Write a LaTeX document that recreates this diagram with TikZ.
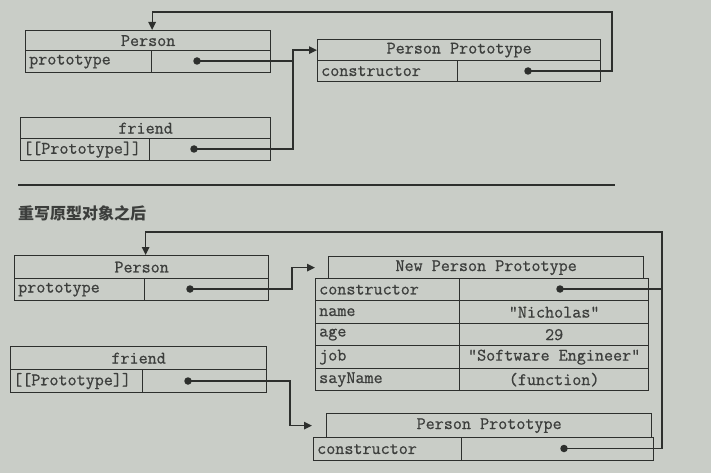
\documentclass[tikz,border=0pt]{standalone}
\usepackage{fontspec}
\newfontfamily\cjk{Noto Sans CJK SC}
\newfontfamily\monof{Latin Modern Mono}[FakeBold=0.7]
\usetikzlibrary{arrows.meta}
\definecolor{bg}{RGB}{201,205,199}
\definecolor{ln}{RGB}{45,47,45}
\definecolor{tx}{RGB}{60,62,60}
\begin{document}
\begin{tikzpicture}[x=1pt,y=-1pt,
  mono/.style={font=\monof\fontsize{17.6}{20}\selectfont},
  cell/.style={draw=ln, line width=1.3pt, anchor=north west, inner sep=0pt, text=tx, mono},
  lbl/.style={anchor=west, inner sep=0pt, text=tx, mono},
  dotn/.style={circle, fill=ln, inner sep=0pt, minimum size=7.5pt},
  link/.style={draw=ln, line width=1.3pt},
  arr/.style={link, -{Triangle[length=8pt,width=7.5pt]}}
]
\fill[bg] (0,0) rectangle (711,473);
\useasboundingbox (0,0) rectangle (711,473);

% ---------- top section ----------
\node[cell, minimum width=245pt, minimum height=20pt] (p1h) at (25,30) {Person};
\node[cell, minimum width=126pt, minimum height=22pt] (p1a) at (25,50) {};
\node[cell, minimum width=119pt, minimum height=22pt] (p1b) at (151,50) {};
\node[lbl] (p1l) at ([xshift=4pt]p1a.west) {prototype};
\node[dotn] (d1) at (197,61) {};

\node[cell, minimum width=250pt, minimum height=21pt] (f1h) at (20,117) {friend};
\node[cell, minimum width=129pt, minimum height=22pt] (f1a) at (20,138) {};
\node[cell, minimum width=121pt, minimum height=22pt] (f1b) at (149,138) {};
\node[lbl] (f1l) at ([xshift=3pt]f1a.west) {[[Prototype]]};
\node[dotn] (d2) at (194,149) {};

\node[cell, minimum width=283pt, minimum height=21pt] (pp1h) at (317,39) {Person Prototype};
\node[cell, minimum width=140pt, minimum height=21pt] (pp1a) at (317,60) {};
\node[cell, minimum width=143pt, minimum height=21pt] (pp1b) at (457,60) {};
\node[lbl] (pp1l) at ([xshift=4pt]pp1a.west) {constructor};
\node[dotn] (d3) at (528,71) {};

\coordinate (j1) at (293,61);
\coordinate (c1) at (612,12);
\draw[arr] (d1.center) -- (j1) |- (pp1h.west);
\draw[link] (d2.center) -| (j1);
\draw[arr] (d3.center) -| (c1) -| ([xshift=4pt]p1h.north);

% ---------- separator ----------
\coordinate (s1) at (18,185);
\coordinate (s2) at (615,185);
\draw[ln, line width=1.8pt] (s1) -- (s2);
\node[anchor=west, inner sep=0pt, text=tx, font=\cjk\bfseries\fontsize{16}{18}\selectfont] (title) at (18,213) {重写原型对象之后};

% ---------- bottom section ----------
\node[cell, minimum width=254pt, minimum height=23pt] (p2h) at (14,255) {Person};
\node[cell, minimum width=130pt, minimum height=22pt] (p2a) at (14,278) {};
\node[cell, minimum width=124pt, minimum height=22pt] (p2b) at (144,278) {};
\node[lbl] (p2l) at ([xshift=4pt]p2a.west) {prototype};
\node[dotn] (d4) at (190,289) {};

\node[cell, minimum width=256pt, minimum height=23pt] (f2h) at (10,346) {friend};
\node[cell, minimum width=132pt, minimum height=23pt] (f2a) at (10,369) {};
\node[cell, minimum width=124pt, minimum height=23pt] (f2b) at (142,369) {};
\node[lbl] (f2l) at ([xshift=3pt]f2a.west) {[[Prototype]]};
\node[dotn] (d5) at (188,381) {};

\node[cell, minimum width=315pt, minimum height=22pt] (nh) at (328,256) {New Person Prototype};
\node[cell, minimum width=144pt, minimum height=22pt] (n1a) at (315,278) {};
\node[cell, minimum width=189pt, minimum height=22pt] (n1b) at (459,278) {};
\node[cell, minimum width=144pt, minimum height=23pt] (n2a) at (315,300) {};
\node[cell, minimum width=189pt, minimum height=23pt] (n2b) at (459,300) {"Nicholas"};
\node[cell, minimum width=144pt, minimum height=22pt] (n3a) at (315,323) {};
\node[cell, minimum width=189pt, minimum height=22pt] (n3b) at (459,323) {29};
\node[cell, minimum width=144pt, minimum height=23pt] (n4a) at (315,345) {};
\node[cell, minimum width=189pt, minimum height=23pt] (n4b) at (459,345) {"Software Engineer"};
\node[cell, minimum width=144pt, minimum height=22pt] (n5a) at (315,368) {};
\node[cell, minimum width=189pt, minimum height=22pt] (n5b) at (459,368) {(function)};
\node[lbl] (n1l) at ([xshift=4pt]n1a.west) {constructor};
\node[lbl] (n2l) at ([xshift=4pt]n2a.west) {name};
\node[lbl] (n3l) at ([xshift=4pt]n3a.west) {age};
\node[lbl] (n4l) at ([xshift=4pt]n4a.west) {job};
\node[lbl] (n5l) at ([xshift=4pt]n5a.west) {sayName};
\node[dotn] (d6) at (560,289) {};

\node[cell, minimum width=325pt, minimum height=24pt] (pp2h) at (326,413) {Person Prototype};
\node[cell, minimum width=148pt, minimum height=23pt] (pp2a) at (313,437) {};
\node[cell, minimum width=192pt, minimum height=23pt] (pp2b) at (461,437) {};
\node[lbl] (pp2l) at ([xshift=4pt]pp2a.west) {constructor};
\node[dotn] (d7) at (564,448.5) {};

\coordinate (j2) at (292,289);
\coordinate (j3) at (290,381);
\coordinate (c2) at (662,232);
\draw[arr] (d4.center) -- (j2) |- ([xshift=-13pt]nh.west);
\draw[arr] (d5.center) -- (j3) |- ([xshift=-14pt]pp2h.west);
\draw[arr] (d7.center) -| (c2) -| ([xshift=4pt]p2h.north);
\draw[link] (d6.center) -- (d6.center -| c2);
\end{tikzpicture}
\end{document}
